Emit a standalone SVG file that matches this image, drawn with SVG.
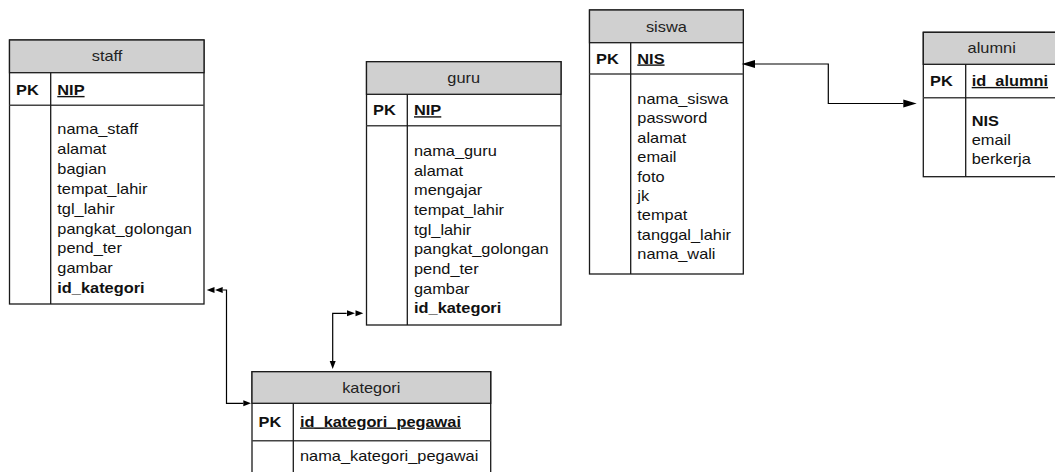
<svg xmlns="http://www.w3.org/2000/svg" width="1055" height="472" viewBox="0 0 1055 472">
<style>
text{font-family:"Liberation Sans",Arial,sans-serif;font-size:14px;fill:#111}
.h{text-anchor:middle;fill:#222}
.b{font-weight:bold}
.u{font-weight:bold;text-decoration:underline}
.box{fill:#fff;stroke:#1a1a1a;stroke-width:1.3}
.hd{fill:#d0d0d0;stroke:#1a1a1a;stroke-width:1.3}
.ln{fill:none;stroke:#1a1a1a;stroke-width:1.3}
.sep{fill:none;stroke:#444;stroke-width:1.6}
.con{fill:none;stroke:#000;stroke-width:1.2}
.ah{fill:#000}
</style>
<rect width="1055" height="472" fill="#fff"/>

<g id="staff">
<rect class="box" x="9.5" y="40" width="194.5" height="264"/>
<rect class="hd" x="9.5" y="40" width="194.5" height="32.7"/>
<path class="sep" d="M9.5,105.3H204"/>
<path class="ln" d="M50.7,72.7V304"/>
<text class="h" transform="matrix(1.17,0,0,1,107,61)">staff</text>
<text class="b" transform="matrix(1.17,0,0,1,16,95)">PK</text>
<text class="u" transform="matrix(1.17,0,0,1,57.3,95)">NIP</text>
<text transform="matrix(1.17,0,0,1,57.3,134)">nama_staff</text>
<text transform="matrix(1.17,0,0,1,57.3,153.9)">alamat</text>
<text transform="matrix(1.17,0,0,1,57.3,173.8)">bagian</text>
<text transform="matrix(1.17,0,0,1,57.3,193.7)">tempat_lahir</text>
<text transform="matrix(1.17,0,0,1,57.3,213.6)">tgl_lahir</text>
<text transform="matrix(1.17,0,0,1,57.3,233.5)">pangkat_golongan</text>
<text transform="matrix(1.17,0,0,1,57.3,253.4)">pend_ter</text>
<text transform="matrix(1.17,0,0,1,57.3,273.3)">gambar</text>
<text class="b" transform="matrix(1.17,0,0,1,57.3,293.2)">id_kategori</text>
</g>

<g id="guru">
<rect class="box" x="366.5" y="61.7" width="194.5" height="263.3"/>
<rect class="hd" x="366.5" y="61.7" width="194.5" height="32.6"/>
<path class="sep" d="M366.5,125.7H561"/>
<path class="ln" d="M407.3,94.3V325"/>
<text class="h" transform="matrix(1.17,0,0,1,463.7,83.3)">guru</text>
<text class="b" transform="matrix(1.17,0,0,1,373,115.3)">PK</text>
<text class="u" transform="matrix(1.17,0,0,1,414,115.3)">NIP</text>
<text transform="matrix(1.17,0,0,1,414,155.8)">nama_guru</text>
<text transform="matrix(1.17,0,0,1,414,175.5)">alamat</text>
<text transform="matrix(1.17,0,0,1,414,195.2)">mengajar</text>
<text transform="matrix(1.17,0,0,1,414,214.9)">tempat_lahir</text>
<text transform="matrix(1.17,0,0,1,414,234.6)">tgl_lahir</text>
<text transform="matrix(1.17,0,0,1,414,254.3)">pangkat_golongan</text>
<text transform="matrix(1.17,0,0,1,414,274)">pend_ter</text>
<text transform="matrix(1.17,0,0,1,414,293.7)">gambar</text>
<text class="b" transform="matrix(1.17,0,0,1,414,313.4)">id_kategori</text>
</g>

<g id="siswa">
<rect class="box" x="589.5" y="10" width="153.8" height="264"/>
<rect class="hd" x="589.5" y="10" width="153.8" height="32.7"/>
<path class="sep" d="M589.5,74H743.3"/>
<path class="ln" d="M630.7,42.7V274"/>
<text class="h" transform="matrix(1.17,0,0,1,666.4,31.5)">siswa</text>
<text class="b" transform="matrix(1.17,0,0,1,596,63.5)">PK</text>
<text class="u" transform="matrix(1.17,0,0,1,637.3,63.5)">NIS</text>
<text transform="matrix(1.17,0,0,1,637.3,104)">nama_siswa</text>
<text transform="matrix(1.17,0,0,1,637.3,123.4)">password</text>
<text transform="matrix(1.17,0,0,1,637.3,142.8)">alamat</text>
<text transform="matrix(1.17,0,0,1,637.3,162.2)">email</text>
<text transform="matrix(1.17,0,0,1,637.3,181.6)">foto</text>
<text transform="matrix(1.17,0,0,1,637.3,201)">jk</text>
<text transform="matrix(1.17,0,0,1,637.3,220.4)">tempat</text>
<text transform="matrix(1.17,0,0,1,637.3,239.8)">tanggal_lahir</text>
<text transform="matrix(1.17,0,0,1,637.3,259.2)">nama_wali</text>
</g>

<g id="alumni">
<rect class="box" x="923.3" y="32.3" width="137" height="144.4"/>
<rect class="hd" x="923.3" y="32.3" width="137" height="32"/>
<path class="sep" d="M923.3,97.7H1060"/>
<path class="ln" d="M965.7,64.3V176.7"/>
<text class="h" transform="matrix(1.17,0,0,1,991.7,53.3)">alumni</text>
<text class="b" transform="matrix(1.17,0,0,1,930,86)">PK</text>
<text class="u" transform="matrix(1.17,0,0,1,971.7,86)">id_alumni</text>
<text class="b" transform="matrix(1.17,0,0,1,971.7,126)">NIS</text>
<text transform="matrix(1.17,0,0,1,971.7,145.2)">email</text>
<text transform="matrix(1.17,0,0,1,971.7,164)">berkerja</text>
</g>

<g id="kategori">
<rect class="box" x="252" y="371.7" width="238.7" height="110"/>
<rect class="hd" x="252" y="371.7" width="238.7" height="31.6"/>
<path class="sep" d="M252,440.7H490.7"/>
<path class="ln" d="M293.3,403.3V482"/>
<text class="h" transform="matrix(1.17,0,0,1,371.3,392.5)">kategori</text>
<text class="b" transform="matrix(1.17,0,0,1,258.5,426.5)">PK</text>
<text class="u" transform="matrix(1.17,0,0,1,300,426.5)">id_kategori_pegawai</text>
<text transform="matrix(1.17,0,0,1,300,460.7)">nama_kategori_pegawai</text>
</g>

<g id="connectors">
<path class="con" d="M222.7,290H226.5V403.3H243.3"/>
<polygon class="ah" points="206.7,290 214.5,287 214.5,293"/>
<polygon class="ah" points="215,290 222.7,287 222.7,293"/>
<polygon class="ah" points="251,403.3 243.3,400.3 243.3,406.3"/>
<path class="con" d="M346.7,313.3H332.7V361"/>
<polygon class="ah" points="355,313.3 347,310.3 347,316.3"/>
<polygon class="ah" points="363.3,313.3 355.5,310.3 355.5,316.3"/>
<polygon class="ah" points="332.7,369 329.7,361 335.7,361"/>
<path class="con" d="M755,64H828.3V103.5H903.3"/>
<polygon class="ah" points="741.7,64 755,60 755,68"/>
<polygon class="ah" points="916.7,103.5 903.3,99.5 903.3,107.5"/>
</g>
</svg>
